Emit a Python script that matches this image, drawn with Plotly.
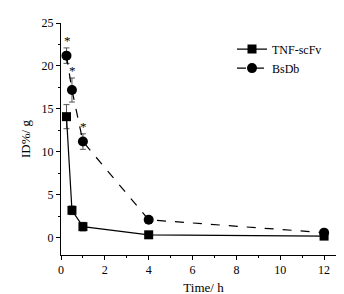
import plotly.graph_objects as go

time_h = [0.25, 0.5, 1, 4, 12]
tnf_scfv = [14.1, 3.2, 1.3, 0.35, 0.2]
tnf_err = [1.4, 0.5, 0.5, 0.15, 0.15]
bsdb = [21.2, 17.2, 11.2, 2.1, 0.6]
bsdb_err = [0.9, 1.4, 0.9, 0.2, 0.3]
sig_idx = [0, 1, 2]
sig_label = "*"

font_family = "Liberation Serif"

fig = go.Figure()
fig.add_trace(go.Scatter(
    x=time_h, y=tnf_scfv, name="TNF-scFv", mode="lines+markers",
    line=dict(color="black", width=1.2),
    marker=dict(symbol="square", size=9, color="black"),
    error_y=dict(type="data", array=tnf_err, color="#555555", thickness=1, width=3),
))
fig.add_trace(go.Scatter(
    x=time_h, y=bsdb, name="BsDb", mode="lines+markers",
    line=dict(color="black", width=1.2, dash="dash"),
    marker=dict(symbol="circle", size=10, color="black"),
    error_y=dict(type="data", array=bsdb_err, color="#555555", thickness=1, width=3),
))
for i in sig_idx:
    fig.add_annotation(
        x=time_h[i], y=bsdb[i] + bsdb_err[i], text=sig_label, showarrow=False,
        yanchor="bottom", yshift=-2, xshift=1,
        font=dict(family=font_family, size=13, color="black"),
    )

fig.update_layout(
    width=344, height=294,
    margin=dict(l=53, r=6, t=15, b=47),
    paper_bgcolor="white", plot_bgcolor="white",
    font=dict(family=font_family, size=12, color="black"),
    showlegend=True,
    legend=dict(x=0.6, y=0.95, xanchor="left", yanchor="top",
                bgcolor="rgba(0,0,0,0)", font=dict(size=12),
                itemwidth=30, tracegroupgap=2),
    xaxis=dict(range=[0, 13], tickvals=[0, 2, 4, 6, 8, 10, 12],
               showgrid=False, zeroline=False, showline=True, linecolor="black", linewidth=1,
               ticks="outside", ticklen=4, tickcolor="black",
               minor=dict(ticks="outside", ticklen=2, dtick=1, tickcolor="black"),
               title=dict(text="Time/ h", font=dict(size=13), standoff=6)),
    yaxis=dict(range=[-2, 25], tickvals=[0, 5, 10, 15, 20, 25],
               showgrid=False, zeroline=False, showline=True, linecolor="black", linewidth=1,
               ticks="outside", ticklen=4, tickcolor="black",
               minor=dict(ticks="outside", ticklen=2, dtick=2.5, tickcolor="black"),
               title=dict(text="ID%/ g", font=dict(size=13), standoff=8)),
)

fig.write_html("out.html")
